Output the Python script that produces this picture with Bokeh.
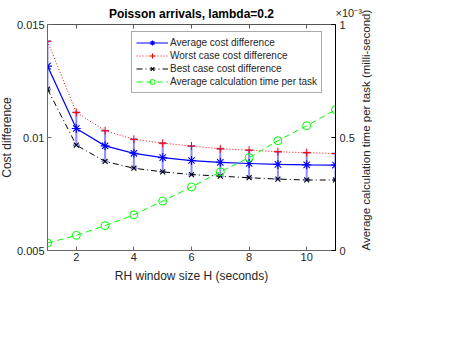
import math
from bokeh.plotting import figure
from bokeh.models import (Range1d, LinearAxis, FixedTicker, CustomJSTickFormatter,
                          Whisker, TeeHead, ColumnDataSource)
from bokeh.embed import file_html
from bokeh.resources import INLINE

# ---- data ----
window_size = [1, 2, 3, 4, 5, 6, 7, 8, 9, 10, 11]
avg_cost = [0.01316, 0.01040, 0.00963, 0.00930, 0.00911, 0.00898, 0.00890, 0.00885, 0.00881, 0.00879, 0.00878]
worst_cost = [0.01426, 0.01111, 0.01030, 0.00992, 0.00975, 0.00962, 0.00950, 0.00944, 0.00937, 0.00933, 0.00929]
best_cost = [0.01214, 0.00966, 0.00894, 0.00864, 0.00848, 0.00836, 0.00829, 0.00822, 0.00816, 0.00812, 0.00812]
calc_time_ms = [0.033e-3, 0.067e-3, 0.110e-3, 0.158e-3, 0.219e-3, 0.281e-3, 0.348e-3, 0.411e-3, 0.486e-3, 0.552e-3, 0.623e-3]
x_ticks = [2, 4, 6, 8, 10]
left_ticks = [0.005, 0.01, 0.015]
right_ticks = [0, 0.0005, 0.001]

TITLE = "Poisson arrivals, lambda=0.2"
FONT = "Liberation Sans"
TXT = "#262626"

src = ColumnDataSource(dict(x=window_size, avg=avg_cost, worst=worst_cost,
                            best=best_cost, t=calc_time_ms))

p = figure(frame_width=288, frame_height=226,
           x_range=Range1d(1, 11), y_range=Range1d(0.005, 0.015),
           output_backend="svg", toolbar_location=None,
           min_border_left=0, min_border_right=30, min_border_top=0, min_border_bottom=0,
           margin=(-3, 0, 0, -4))
p.title_location = None
p.extra_y_ranges = {"time": Range1d(0, 0.001)}

p.xgrid.visible = False
p.ygrid.visible = False
p.outline_line_color = "#555555"
p.background_fill_color = "white"
p.border_fill_color = "white"

def has_prop(model, name):
    return name in model.properties()

def style_axis(ax, line_color):
    ax.major_tick_in = 4
    ax.major_tick_out = 0
    ax.minor_tick_line_color = None
    ax.axis_line_color = line_color
    ax.major_tick_line_color = line_color
    ax.major_label_text_font = FONT
    ax.major_label_text_font_size = "11px"
    ax.major_label_text_color = TXT
    ax.axis_label_text_font = FONT
    ax.axis_label_text_font_size = "12px"
    ax.axis_label_text_font_style = "normal"
    ax.axis_label_text_color = TXT
    ax.major_label_standoff = 4
    ax.axis_label_standoff = 4

# bottom axis
xa = p.xaxis[0]
style_axis(xa, "#666666")
xa.ticker = FixedTicker(ticks=x_ticks)
xa.axis_label = "RH window size H (seconds)"
xa.major_label_standoff = 2
xa.axis_label_standoff = 5

# left axis
ya = p.yaxis[0]
style_axis(ya, "#666666")
ya.ticker = FixedTicker(ticks=left_ticks)
ya.formatter = CustomJSTickFormatter(code="return String(+tick.toFixed(4));")
ya.axis_label = "Cost difference"
ya.major_label_standoff = 3
ya.axis_label_standoff = 0

# top edge: mirrored ticks, chart title centred above the frame
top = LinearAxis(ticker=FixedTicker(ticks=x_ticks))
style_axis(top, "#555555")
top.axis_line_color = None
top.formatter = CustomJSTickFormatter(code="return '';")
top.major_label_standoff = 0
top.axis_label = TITLE
top.axis_label_text_font_style = "bold"
top.axis_label_text_color = "black"
top.axis_label_standoff = 4
p.add_layout(top, "above")

# x10^-3 multiplier of the right axis, in the title row just right of the frame
mult = LinearAxis(ticker=FixedTicker(ticks=[]))
style_axis(mult, None)
mult.major_tick_line_color = None
mult.axis_label = "\u00d710\u207b\u00b3"
mult.axis_label_text_font_size = "11px"
mult.axis_label_standoff = -9
if has_prop(mult, "axis_label_align"):
    mult.axis_label_align = "end"
    mult.axis_label_orientation = 0.0
p.add_layout(mult, "above")

# right axis: ticks and tick labels
ra = LinearAxis(y_range_name="time", ticker=FixedTicker(ticks=right_ticks))
style_axis(ra, "black")
ra.formatter = CustomJSTickFormatter(code="return String(Math.round(tick * 1e4) / 10);")
p.add_layout(ra, "right")

# right axis title, reading bottom to top like the reference
ra2 = LinearAxis(y_range_name="time", ticker=FixedTicker(ticks=[]))
style_axis(ra2, None)
ra2.major_tick_line_color = None
ra2.axis_label = "Average calculation time per task (milli-second)"
ra2.axis_label_text_font_size = "11.5px"
ra2.axis_label_orientation = math.pi / 2
ra2.axis_label_standoff = 8
if has_prop(ra2, "axis_label_align"):
    ra2.axis_label_align = "start"
p.add_layout(ra2, "right")

# error bars (best..worst) around the average
wh = Whisker(base="x", lower="best", upper="worst", source=src,
             line_color="blue", line_alpha=0.45, line_width=2,
             upper_head=TeeHead(size=7, line_color="blue", line_alpha=0.45, line_width=2),
             lower_head=TeeHead(size=7, line_color="blue", line_alpha=0.45, line_width=2))
p.add_layout(wh)

l1 = "Average cost difference"
l2 = "Worst case cost difference"
l3 = "Best case cost difference"
l4 = "Average calculation time per task"

p.line("x", "avg", source=src, line_color="blue", line_width=1.2, legend_label=l1)
p.scatter("x", "avg", source=src, marker="asterisk", size=9, line_color="blue", line_width=1.1, legend_label=l1)

p.line("x", "worst", source=src, line_color="red", line_width=1, line_dash="1 2", legend_label=l2)
p.scatter("x", "worst", source=src, marker="cross", size=8, line_color="red", line_width=1, legend_label=l2)

p.line("x", "best", source=src, line_color="black", line_width=1, line_dash="6 3 1 3", legend_label=l3)
p.scatter("x", "best", source=src, marker="x", size=7, line_color="black", line_width=1.1, legend_label=l3)

p.line("x", "t", source=src, y_range_name="time", line_color="#00ff00", line_width=1, line_dash="6 4", legend_label=l4)
p.scatter("x", "t", source=src, y_range_name="time", marker="circle", size=8, line_color="#00ff00",
          fill_color=None, line_width=1, legend_label=l4)

lg = p.legend[0]
lg.location = (84, 157)
lg.label_text_font = FONT
lg.label_text_font_size = "10px"
lg.label_text_color = TXT
lg.glyph_width = 32
lg.glyph_height = 13
lg.label_height = 13
lg.spacing = 0
lg.padding = 4
lg.margin = 0
lg.label_standoff = 2
lg.border_line_color = "#555555"
lg.background_fill_alpha = 1

open("out.html", "w").write(file_html(p, INLINE))
